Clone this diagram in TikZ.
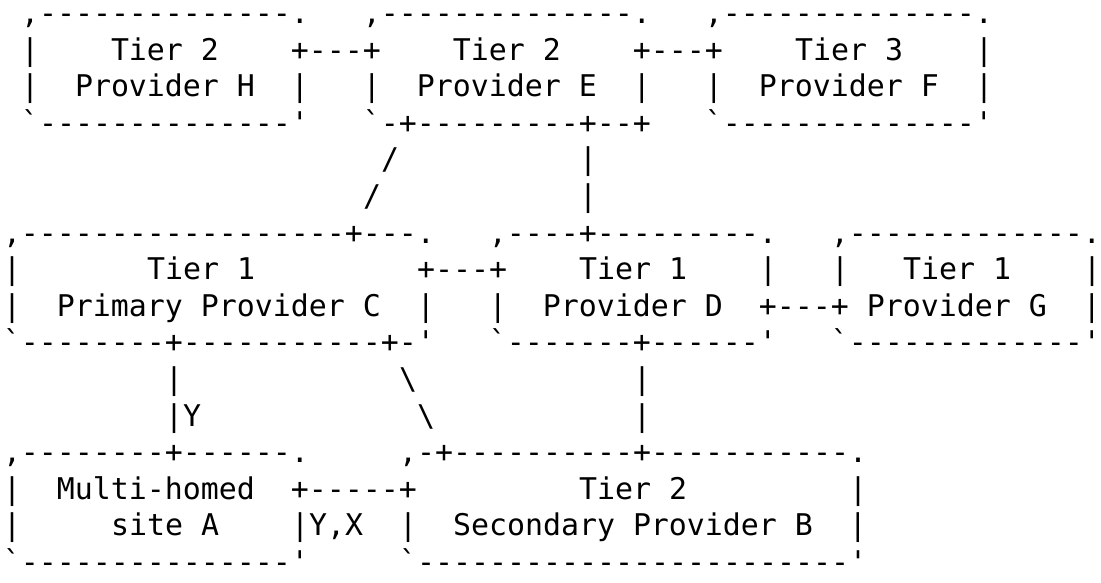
\documentclass[tikz,border=0pt]{standalone}
\usepackage{fontspec}
\setmonofont{DejaVu Sans Mono}

\begin{document}
\begin{tikzpicture}[x=18pt,y=-36.6pt,every
			node/.style={anchor=base west,inner sep=0pt,outer sep=0pt,
			font=\ttfamily\fontsize{29.9pt}{36.6pt}\selectfont}]
			\useasboundingbox (-3pt,23.5pt) rectangle (1098pt,-558.5pt);
			% boxes H, E, F
			\node(row01) at (0,0) {~,--------------.~~~,--------------.~~~,--------------.};
			\node(row02) at (0,1) {~|~~~~Tier~2~~~~+---+~~~~Tier~2~~~~+---+~~~~Tier~3~~~~|};
			\node(row03) at (0,2) {~|~~Provider~H~~|~~~|~~Provider~E~~|~~~|~~Provider~F~~|};
			\node(row04) at (0,3) {~`--------------'~~~`-+---------+--+~~~`--------------'};
			\node(row05) at (0,4) {~~~~~~~~~~~~~~~~~~~~~/~~~~~~~~~~|};
			\node(row06) at (0,5) {~~~~~~~~~~~~~~~~~~~~/~~~~~~~~~~~|};
			% boxes C, D, G
			\node(row07) at (0,6) {,------------------+---.~~~,----+---------.~~~,-------------.};
			\node(row08) at (0,7) {|~~~~~~~Tier~1~~~~~~~~~+---+~~~~Tier~1~~~~|~~~|~~~Tier~1~~~~|};
			\node(row09) at (0,8) {|~~Primary~Provider~C~~|~~~|~~Provider~D~~+---+~Provider~G~~|};
			\node(row10) at (0,9) {`--------+-----------+-'~~~`-------+------'~~~`-------------'};
			\node(row11) at (0,10) {~~~~~~~~~|~~~~~~~~~~~~\textbackslash~~~~~~~~~~~~|};
			\node(row12) at (0,11) {~~~~~~~~~|Y~~~~~~~~~~~~\textbackslash~~~~~~~~~~~|};
			% boxes A, B
			\node(row13) at (0,12) {,--------+------.~~~~~,-+----------+-----------.};
			\node(row14) at (0,13) {|~~Multi-homed~~+-----+~~~~~~~~~Tier~2~~~~~~~~~|};
			\node(row15) at (0,14) {|~~~~~site~A~~~~|Y,X~~|~~Secondary~Provider~B~~|};
			\node(row16) at (0,15) {`---------------'~~~~~`------------------------'};
		\end{tikzpicture}
\end{document}
